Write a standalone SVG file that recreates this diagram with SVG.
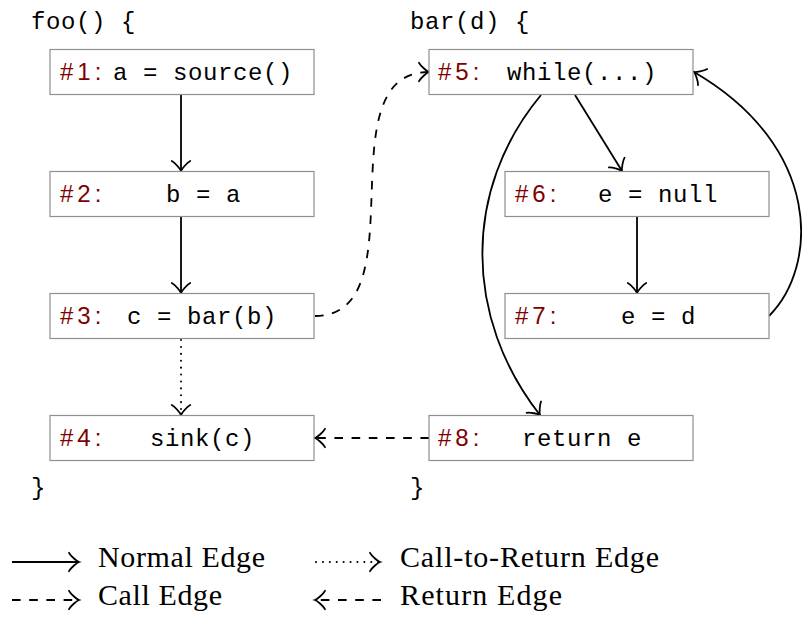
<svg xmlns="http://www.w3.org/2000/svg" width="802" height="617" viewBox="0 0 802 617">
<style>
.box{fill:#fff;stroke:#8f8f8f;stroke-width:1.2}
.code{font-family:"Liberation Mono","DejaVu Sans Mono",monospace;font-size:24px;letter-spacing:0.6px;fill:#000}
.lbl{font-family:"Liberation Sans","DejaVu Sans",sans-serif;font-size:24px;letter-spacing:4px;fill:#800000}
.leg{font-family:"Liberation Serif","DejaVu Serif",serif;font-size:30px;fill:#000}
.e{fill:none;stroke:#000;stroke-width:1.8;marker-end:url(#to)}
.dash{stroke-dasharray:8.6 8.6}
.dot{stroke-dasharray:0.1 6.8;stroke-linecap:round;stroke-width:2}
</style>
<defs>
<marker id="to" markerUnits="userSpaceOnUse" orient="auto" refX="0" refY="0" markerWidth="24" markerHeight="24" overflow="visible">
<path d="M-10,-9.2 C-8.2,-5.8 -1.8,-0.6 0,0 C-1.8,0.6 -8.2,5.8 -10,9.2" fill="none" stroke="#000" stroke-width="1.8" stroke-linecap="round"/>
</marker>
</defs>
<rect width="802" height="617" fill="#fff"/>
<g id="headers">
<text class="code" x="31" y="29">foo() {</text>
<text class="code" x="410" y="29">bar(d) {</text>
<text class="code" x="31" y="495">}</text>
<text class="code" x="410" y="495">}</text>
</g>
<g id="connectors">
<path class="e" d="M181,95 L181,171"/>
<path class="e" d="M181,217 L181,293"/>
<path class="e dot" d="M181,340 L181,415"/>
<path class="e dash" d="M315,316 C420,316 323,72 429,72"/>
<path class="e" d="M575,95 L622,171"/>
<path class="e" d="M541,95 C462,190 464,318 540,415"/>
<path class="e" d="M637,217 L637,293"/>
<path class="e" d="M769,316 C818.5,266.5 822.9,147 694,72"/>
<path class="e dash" d="M429,438 L315,438"/>
</g>
<g id="n1"><rect class="box" x="50" y="49.5" width="264" height="45"/><text class="lbl" x="60" y="80">#1:</text><text class="code" x="113" y="80">a = source()</text></g>
<g id="n2"><rect class="box" x="50" y="171.5" width="264" height="45"/><text class="lbl" x="60" y="202">#2:</text><text class="code" x="166" y="202">b = a</text></g>
<g id="n3"><rect class="box" x="50" y="293.5" width="264" height="45"/><text class="lbl" x="60" y="324">#3:</text><text class="code" x="127" y="324">c = bar(b)</text></g>
<g id="n4"><rect class="box" x="50" y="415.5" width="264" height="45"/><text class="lbl" x="60" y="446">#4:</text><text class="code" x="150" y="446">sink(c)</text></g>
<g id="n5"><rect class="box" x="429" y="49.5" width="264" height="45"/><text class="lbl" x="438" y="80">#5:</text><text class="code" x="507" y="80">while(...)</text></g>
<g id="n6"><rect class="box" x="505" y="171.5" width="264" height="45"/><text class="lbl" x="515" y="202">#6:</text><text class="code" x="598" y="202">e = null</text></g>
<g id="n7"><rect class="box" x="505" y="293.5" width="264" height="45"/><text class="lbl" x="515" y="324">#7:</text><text class="code" x="621" y="324">e = d</text></g>
<g id="n8"><rect class="box" x="429" y="415.5" width="264" height="45"/><text class="lbl" x="438" y="446">#8:</text><text class="code" x="522" y="446">return e</text></g>
<g id="legend">
<path class="e" d="M12,562 L79,562"/>
<text class="leg" x="98" y="567" textLength="167" lengthAdjust="spacing">Normal Edge</text>
<path class="e dot" d="M316,562 L380,562"/>
<text class="leg" x="400" y="567" textLength="259" lengthAdjust="spacing">Call-to-Return Edge</text>
<path class="e dash" d="M12,600 L79,600"/>
<text class="leg" x="98" y="605" textLength="124" lengthAdjust="spacing">Call Edge</text>
<path class="e dash" d="M381,600 L315,600"/>
<text class="leg" x="400" y="605" textLength="162" lengthAdjust="spacing">Return Edge</text>
</g>
</svg>
